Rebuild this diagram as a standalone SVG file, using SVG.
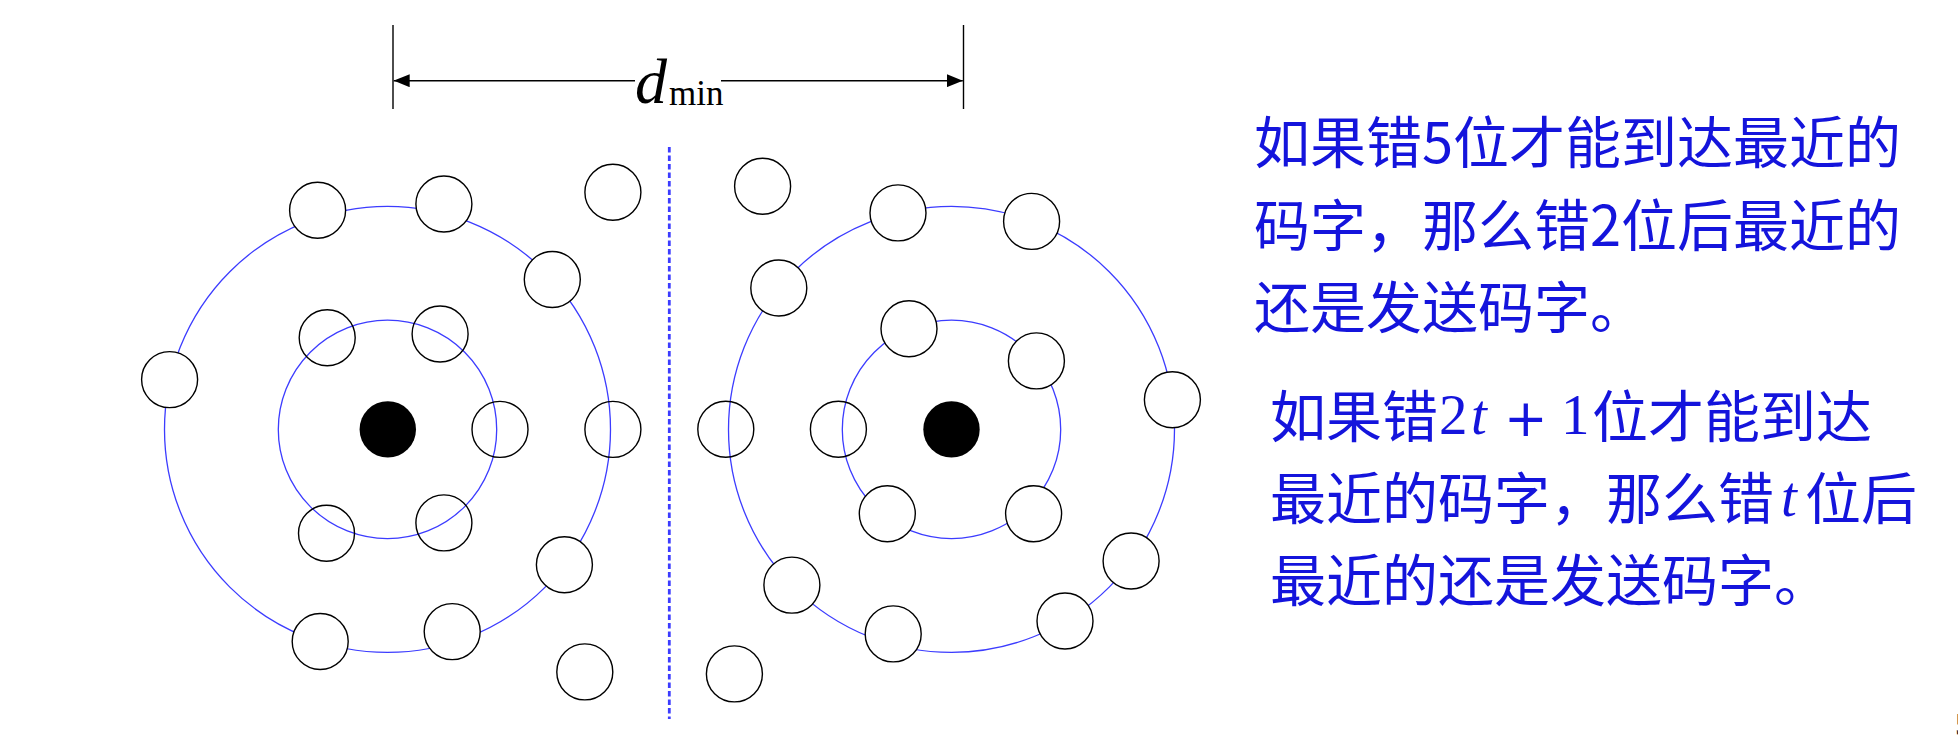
<svg xmlns="http://www.w3.org/2000/svg" width="1958" height="744" viewBox="0 0 1958 744">
<style>
.ring{fill:none;stroke:#3c3cff;stroke-width:1.3}
.cw{fill:#fff;stroke:#000;stroke-width:1.4}
.ct{fill:none;stroke:#000;stroke-width:1.4}
.dot{fill:#000}
.dim{stroke:#000;stroke-width:1.4;fill:none}
.cjk{font-family:"Noto Sans CJK SC","Noto Sans",sans-serif;font-size:56px;fill:#1414dc}
.math{font-family:"Liberation Serif",serif;font-size:57px;fill:#1414dc}
</style>
<defs>
<marker id="ah" viewBox="0 0 16 13" refX="16" refY="6.5" markerWidth="16" markerHeight="13" markerUnits="userSpaceOnUse" orient="auto-start-reverse">
<path d="M0,0 L16,6.5 L0,13 Z" fill="#000"/>
</marker>
</defs>
<rect width="1958" height="744" fill="#fff"/>

<g id="rings">
<circle class="ring" cx="387.5" cy="429.4" r="109.2"/>
<circle class="ring" cx="387.5" cy="429.4" r="223"/>
<circle class="ring" cx="951.5" cy="429.4" r="109.2"/>
<circle class="ring" cx="951.5" cy="429.4" r="223"/>
</g>

<g id="divider">
<line x1="669.3" y1="147" x2="669.3" y2="719" stroke="#3c3cff" stroke-width="2.8" stroke-dasharray="5.5 3"/>
</g>

<g id="codeword-left"><circle class="dot" cx="387.8" cy="429.4" r="28.2"/></g>
<g id="codeword-right"><circle class="dot" cx="951.5" cy="429.4" r="28.2"/></g>

<g id="left-words">
<g id="L1"><circle class="cw" cx="317.6" cy="210.2" r="28"/></g>
<g id="L2"><circle class="cw" cx="443.9" cy="204.0" r="28"/></g>
<g id="L3"><circle class="cw" cx="612.9" cy="192.2" r="28"/></g>
<g id="L4"><circle class="cw" cx="552.3" cy="279.5" r="28"/></g>
<g id="L5"><circle class="ct" cx="327.2" cy="337.8" r="28"/></g>
<g id="L6"><circle class="ct" cx="440.1" cy="334.0" r="28"/></g>
<g id="L7"><circle class="cw" cx="169.6" cy="379.6" r="28"/></g>
<g id="L8"><circle class="ct" cx="500.0" cy="429.4" r="28"/></g>
<g id="L9"><circle class="ct" cx="612.9" cy="429.4" r="28"/></g>
<g id="L10"><circle class="ct" cx="326.5" cy="533.3" r="28"/></g>
<g id="L11"><circle class="ct" cx="443.9" cy="522.9" r="28"/></g>
<g id="L12"><circle class="cw" cx="564.4" cy="564.7" r="28"/></g>
<g id="L13"><circle class="cw" cx="320.2" cy="641.5" r="28"/></g>
<g id="L14"><circle class="cw" cx="452.2" cy="631.6" r="28"/></g>
<g id="L15"><circle class="cw" cx="584.8" cy="671.9" r="28"/></g>
</g>

<g id="right-words">
<g id="R1"><circle class="cw" cx="762.6" cy="186.2" r="28"/></g>
<g id="R2"><circle class="cw" cx="898.0" cy="212.9" r="28"/></g>
<g id="R3"><circle class="cw" cx="1031.6" cy="221.4" r="28"/></g>
<g id="R4"><circle class="cw" cx="778.8" cy="288.0" r="28"/></g>
<g id="R5"><circle class="cw" cx="909.0" cy="328.7" r="28"/></g>
<g id="R6"><circle class="cw" cx="1036.4" cy="360.9" r="28"/></g>
<g id="R7"><circle class="cw" cx="1172.4" cy="399.7" r="28"/></g>
<g id="R8"><circle class="ct" cx="725.8" cy="429.3" r="28"/></g>
<g id="R9"><circle class="ct" cx="838.4" cy="429.3" r="28"/></g>
<g id="R10"><circle class="cw" cx="887.3" cy="513.7" r="28"/></g>
<g id="R11"><circle class="cw" cx="1033.6" cy="513.7" r="28"/></g>
<g id="R12"><circle class="cw" cx="1131.1" cy="561.0" r="28"/></g>
<g id="R13"><circle class="cw" cx="791.9" cy="585.1" r="28"/></g>
<g id="R14"><circle class="cw" cx="1065.0" cy="621.0" r="28"/></g>
<g id="R15"><circle class="cw" cx="893.2" cy="633.9" r="28"/></g>
<g id="R16"><circle class="cw" cx="734.4" cy="673.9" r="28"/></g>
</g>

<g id="connectors">
<line class="dim" x1="393" y1="25" x2="393" y2="109"/>
<line class="dim" x1="963.5" y1="25" x2="963.5" y2="109"/>
<line class="dim" x1="635" y1="80.7" x2="393.7" y2="80.7" marker-end="url(#ah)"/>
<line class="dim" x1="721" y1="80.7" x2="962.8" y2="80.7" marker-end="url(#ah)"/>
</g>

<g id="dmin-label">
<text x="635" y="103" font-family="Liberation Serif, serif" font-size="64" font-style="italic" fill="#000">d</text>
<text x="669" y="105" font-family="Liberation Serif, serif" font-size="35" fill="#000">min</text>
</g>

<g id="text1" class="cjk">
<text x="1254" y="163">如果错5位才能到达最近的</text>
<text x="1254" y="246">码字，那么错2位后最近的</text>
<text x="1254" y="328">还是发送码字。</text>
</g>

<g id="text2">
<text y="437" class="cjk"><tspan x="1270">如果错</tspan></text>
<text y="434" class="math"><tspan x="1439">2</tspan><tspan x="1471" font-style="italic">t</tspan><tspan x="1561">1</tspan></text>
<text x="1504" y="436" font-family="DejaVu Sans, sans-serif" font-size="52" fill="#1414dc">+</text>
<text y="437" class="cjk"><tspan x="1592">位才能到达</tspan></text>
<text y="519" class="cjk"><tspan x="1270">最近的码字，那么错</tspan></text>
<text y="516" class="math" font-style="italic"><tspan x="1781">t</tspan></text>
<text y="519" class="cjk"><tspan x="1805">位后</tspan></text>
<text y="601" class="cjk"><tspan x="1270">最近的还是发送码字。</tspan></text>
</g>

<g id="page-number">
<text x="1955" y="735" font-family="Liberation Serif, serif" font-size="32" fill="#222">5</text>
</g>
</svg>
